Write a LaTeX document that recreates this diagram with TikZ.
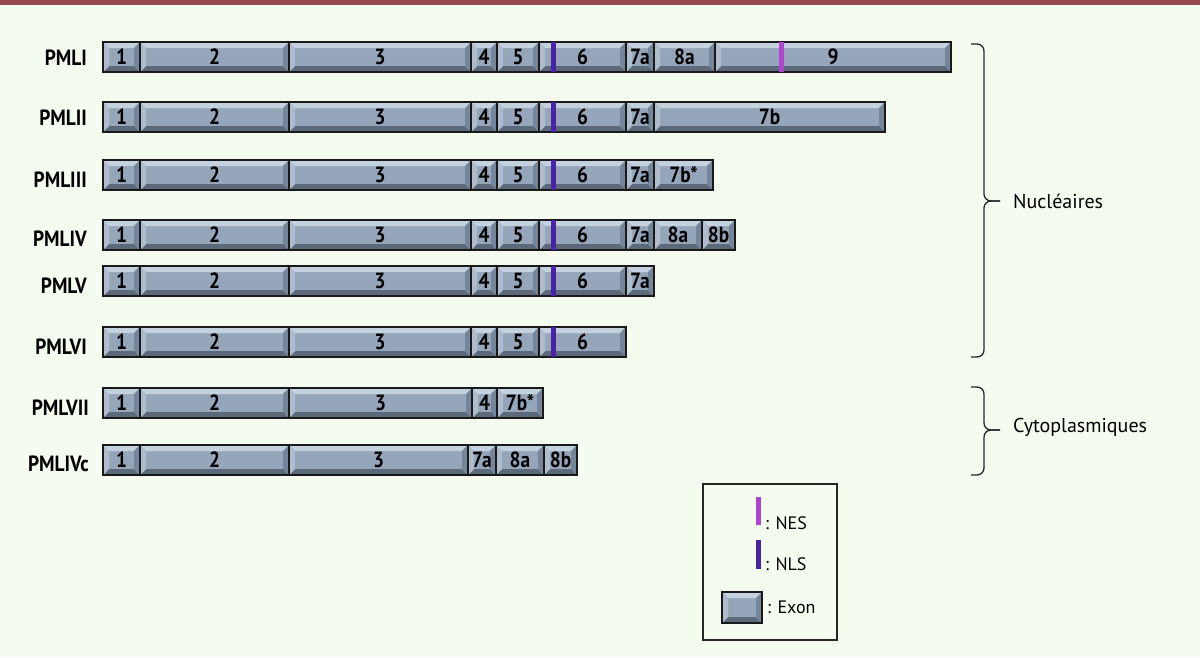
\documentclass[tikz,border=0pt]{standalone}
\usepackage{fontspec}
\setmainfont{PT Sans}
\newfontfamily\narrowfont[FakeStretch=0.88]{PT Sans}
\usetikzlibrary{calc}

\definecolor{bgcol}{HTML}{F4FCF0}
\definecolor{topcol}{HTML}{984852}
\definecolor{exfill}{HTML}{95A6BA}
\definecolor{exlight}{HTML}{C4D1DF}
\definecolor{exmidl}{HTML}{AEBCCC}
\definecolor{exmidd}{HTML}{76869A}
\definecolor{exdark}{HTML}{5B697B}
\definecolor{nlscol}{HTML}{4A22A6}
\definecolor{nescol}{HTML}{B043CF}

\begin{document}
\begin{tikzpicture}[x=1pt, y=-1pt,
    exon/.style={draw=black!90, line width=1.6pt, fill=exfill, minimum width=#1, minimum height=30pt,
      inner sep=0pt, font=\narrowfont\bfseries\fontsize{22}{22}\selectfont,
      path picture={
        \path (path picture bounding box.north west) coordinate (bnw)
              (path picture bounding box.south east) coordinate (bse);
        \fill[exlight] (bnw) -- (bnw -| bse) -- ([shift={(-6pt,-6pt)}]bnw -| bse) -- ([shift={(6pt,-6pt)}]bnw) -- cycle;
        \fill[exdark] (bse) -- (bnw |- bse) -- ([shift={(6pt,6pt)}]bnw |- bse) -- ([shift={(-6pt,6pt)}]bse) -- cycle;
        \fill[exmidl] (bnw) -- ([shift={(6pt,-6pt)}]bnw) -- ([shift={(6pt,6pt)}]bnw |- bse) -- (bnw |- bse) -- cycle;
        \fill[exmidd] (bnw -| bse) -- ([shift={(-6pt,-6pt)}]bnw -| bse) -- ([shift={(-6pt,6pt)}]bse) -- (bse) -- cycle;
      }},
    lbl/.style={anchor=east, inner sep=0pt, font=\narrowfont\bfseries\fontsize{22}{22}\selectfont},
    nls/.style={draw=nlscol, line width=5pt, shorten <=1pt, shorten >=1pt},
    nes/.style={draw=nescol, line width=5pt, shorten <=1pt, shorten >=1pt},
    brace/.style={draw=black!85, line width=1.3pt, rounded corners=7pt},
    side/.style={anchor=west, inner sep=0pt, font=\fontsize{20}{20}\selectfont},
    key/.style={anchor=west, inner sep=0pt, font=\fontsize{18}{18}\selectfont}]

  \useasboundingbox[fill=bgcol] (0,0) rectangle (1200,657);
  \fill[topcol] (0,0) rectangle (1200,4.5);

  % isoform names
  \node[lbl] (PMLI)   at (87,58)  {PMLI};
  \node[lbl] (PMLII)  at (87,118) {PMLII};
  \node[lbl] (PMLIII) at (87,180) {PMLIII};
  \node[lbl] (PMLIV)  at (87,239) {PMLIV};
  \node[lbl] (PMLV)   at (87,286) {PMLV};
  \node[lbl] (PMLVI)  at (87,347) {PMLVI};
  \node[lbl] (PMLVII) at (89,408) {PMLVII};
  \node[lbl] (PMLIVc) at (89,464) {PMLIVc};

  % exons
  \foreach \xa/\xb/\txt [count=\i] in {103/140/1,140/289/2,289/471/3,471/497/4,497/539/5,539/626/6,626/654/7a,654/715/8a,715/951/9}
    \node[exon={(\xb-\xa)*1pt}] (I-\i) at ({(\xa+\xb)/2},57) {\txt};
  \foreach \xa/\xb/\txt [count=\i] in {103/140/1,140/289/2,289/471/3,471/497/4,497/539/5,539/626/6,626/654/7a,654/885/7b}
    \node[exon={(\xb-\xa)*1pt}] (II-\i) at ({(\xa+\xb)/2},117) {\txt};
  \foreach \xa/\xb/\txt [count=\i] in {103/140/1,140/289/2,289/471/3,471/497/4,497/539/5,539/626/6,626/654/7a,654/713/7b*}
    \node[exon={(\xb-\xa)*1pt}] (III-\i) at ({(\xa+\xb)/2},175) {\txt};
  \foreach \xa/\xb/\txt [count=\i] in {103/140/1,140/289/2,289/471/3,471/497/4,497/539/5,539/626/6,626/654/7a,654/702/8a,702/735/8b}
    \node[exon={(\xb-\xa)*1pt}] (IV-\i) at ({(\xa+\xb)/2},235) {\txt};
  \foreach \xa/\xb/\txt [count=\i] in {103/140/1,140/289/2,289/471/3,471/497/4,497/539/5,539/626/6,626/654/7a}
    \node[exon={(\xb-\xa)*1pt}] (V-\i) at ({(\xa+\xb)/2},281) {\txt};
  \foreach \xa/\xb/\txt [count=\i] in {103/140/1,140/289/2,289/471/3,471/497/4,497/539/5,539/626/6}
    \node[exon={(\xb-\xa)*1pt}] (VI-\i) at ({(\xa+\xb)/2},342) {\txt};
  \foreach \xa/\xb/\txt [count=\i] in {103/140/1,140/289/2,289/472/3,472/497/4,497/543/7b*}
    \node[exon={(\xb-\xa)*1pt}] (VII-\i) at ({(\xa+\xb)/2},403) {\txt};
  \foreach \xa/\xb/\txt [count=\i] in {103/140/1,140/289/2,289/468/3,468/496/7a,496/544/8a,544/577/8b}
    \node[exon={(\xb-\xa)*1pt}] (IVc-\i) at ({(\xa+\xb)/2},460) {\txt};

  % signals
  \foreach \r in {I,II,III,IV,V,VI}
    \draw[nls] ([xshift=15pt]\r-6.north west) -- ([xshift=15pt]\r-6.south west);
  \draw[nes] ([xshift=67pt]I-9.north west) -- ([xshift=67pt]I-9.south west);

  % groups
  \draw[brace] (971,44) -- (984,44) -- (984,201) -- (1000,201);
  \draw[brace] (1000,201) -- (984,201) -- (984,357) -- (971,357);
  \node[side] (nuc) at (1013,201) {Nucléaires};
  \draw[brace] (971,387) -- (984,387) -- (984,430) -- (1000,430);
  \draw[brace] (1000,430) -- (984,430) -- (984,475) -- (971,475);
  \node[side] (cyto) at (1013,427) {Cytoplasmiques};

  % legend
  \node[draw=black!85, line width=1.3pt, minimum width=134pt, minimum height=156pt, inner sep=0pt] (legend) at (770,562) {};
  \coordinate (nesa) at (758,497);
  \coordinate (nesb) at (758,525);
  \draw[nes, shorten <=0pt, shorten >=0pt] (nesa) -- (nesb);
  \node[key] (nestxt) at (765,523) {: NES};
  \coordinate (nlsa) at (758,540);
  \coordinate (nlsb) at (758,569);
  \draw[nls, shorten <=0pt, shorten >=0pt] (nlsa) -- (nlsb);
  \node[key] (nlstxt) at (765,564) {: NLS};
  \node[exon=40pt, minimum height=31pt] (exkey) at (742,607.5) {};
  \node[key] (extxt) at (767,607) {: Exon};
\end{tikzpicture}
\end{document}
